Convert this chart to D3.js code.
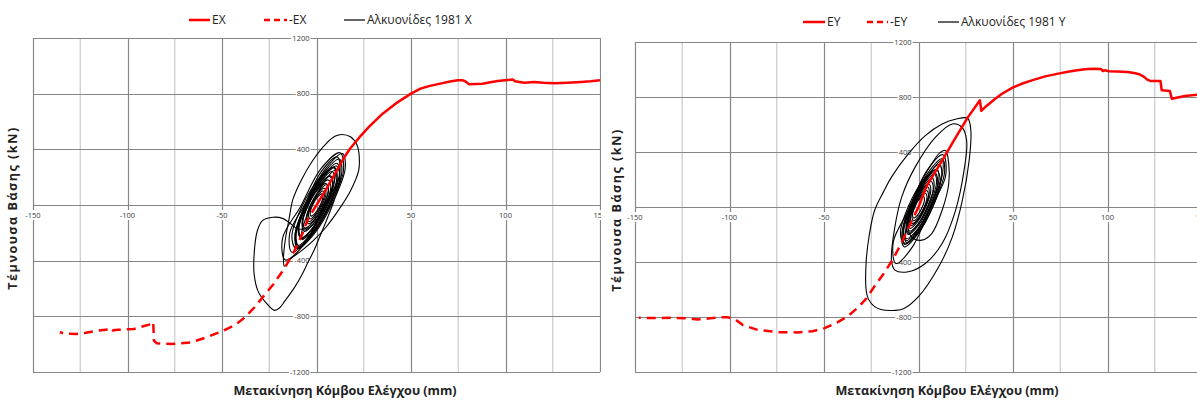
<!DOCTYPE html>
<html>
<head>
<meta charset="utf-8">
<script src="https://cdn.jsdelivr.net/npm/d3@7"></script>
<style>
  html, body { margin: 0; padding: 0; background: #fff; }
  svg { display: block; }
</style>
</head>
<body>
<svg id="chart" width="1197" height="401"></svg>
<script>
// ---- tick values ----
const xTicks = [-150, -100, -50, 0, 50, 100, 150];
const xMinorTicks = [-125, -75, -25, 25, 75, 125];
const yTicks = [-1200, -800, -400, 0, 400, 800, 1200];

// ---- X direction: pushover curves (mm, kN) ----
const pushEX = [[0,0],[5,110],[10,230],[14.8,345],[18,410],[22.9,489],[28,565],[35,656],[42,730],
  [50,800],[55,836],[60,856],[65.5,872],[70,885],[74.6,896],[77,897],[78.7,889],[80.7,867],[84,870],
  [87.8,872],[92,882],[95.9,891],[100,897],[104,901],[105,889],[110,879],[115,884],[120,878],
  [126,874],[133,878],[140,884],[145,889],[150,896]];
const pushEXneg = [[0,0],[-4.5,-100],[-7.5,-208],[-11.6,-328],[-16.6,-448],[-22.7,-568],[-27.8,-651],
  [-32.8,-735],[-37.9,-807],[-43,-862],[-50.1,-908],[-58.2,-951],[-66.3,-987],[-76.4,-999],
  [-84.5,-994],[-86,-975],[-86.4,-840],[-88.6,-860],[-96.7,-891],[-105,-897],[-107.5,-900],
  [-108.5,-913],[-110,-893],[-117,-905],[-122,-918],[-127.1,-927],[-132,-925],[-135.8,-915]];

// ---- X direction: time-history hysteresis loops (Αλκυονίδες 1981) ----
const hystX = [
  [[13.4,507],[18,490],[21.5,430],[22.5,367],[22.3,247],[18,103],[12,-30],[5,-160],[-2,-260],[-8,-330],
   [-14,-390],[-17,-440],[-17.5,-390],[-16.5,-250],[-14.5,-100],[-12.5,40],[-8,180],[-2,320],[5,440],[10,495]],
  [[12.5,375],[14,221],[4.4,-10],[-6.3,-280],[-16.5,-395],[-18,-241],[-8.4,-10],[2.3,260]],
  [[11,345],[12.2,208],[4.3,2],[-4.6,-237],[-13,-340],[-14.2,-203],[-6.3,2],[2.6,242]],
  [[12.03,330],[13.4,236],[7.5,10],[-2.2,-216],[-10.03,-310],[-11.4,-216],[-5.5,10],[4.2,236]],
  [[10.84,300],[12.05,212],[6.5,0],[-2.57,-212],[-9.84,-300],[-11.05,-212],[-5.5,0],[3.57,212]],
  [[9.66,270],[10.72,188],[5.5,-10],[-2.94,-208],[-9.66,-290],[-10.72,-208],[-5.5,-10],[2.94,188]],
  [[10.47,280],[12.44,204],[8,20],[-0.24,-164],[-7.47,-240],[-9.44,-164],[-5,20],[3.24,204]],
  [[8.28,240],[9.39,170],[5,0],[-2.31,-170],[-8.28,-240],[-9.39,-170],[-5,0],[2.31,170]],
  [[7.09,205],[8.75,140],[5,-15],[-1.97,-170],[-8.09,-235],[-9.75,-170],[-6,-15],[0.97,140]],
  [[7.4,210],[8.56,151],[5,10],[-1.2,-131],[-6.4,-190],[-7.56,-131],[-4,10],[2.2,151]],
  [[6.21,180],[7.57,127],[4.5,0],[-1.21,-127],[-6.21,-180],[-7.57,-127],[-4.5,0],[1.21,127]],
  [[5.02,155],[6.23,108],[3.5,-5],[-1.57,-118],[-6.02,-165],[-7.23,-118],[-4.5,-5],[0.57,108]],
  [[5.33,145],[6.38,104],[4,5],[-0.44,-94],[-4.33,-135],[-5.38,-94],[-3,5],[1.44,104]],
  [[4.14,120],[5.04,85],[3,0],[-0.8,-85],[-4.14,-120],[-5.04,-85],[-3,0],[0.8,85]],
  [[3.45,100],[4.21,71],[2.5,0],[-0.67,-71],[-3.45,-100],[-4.21,-71],[-2.5,0],[0.67,71]],
  [[2.76,80],[3.36,57],[2,0],[-0.54,-57],[-2.76,-80],[-3.36,-57],[-2,0],[0.54,57]],
  [[13.72,370],[15.24,270],[9,30],[-1.34,-210],[-9.72,-310],[-11.24,-210],[-5,30],[5.34,270]],
  [[9,270],[11.02,185],[6,-20],[-3.12,-225],[-11,-310],[-13.02,-225],[-8,-20],[1.12,185]],
  [[9.62,250],[9.57,177],[4.5,0],[-2.63,-177],[-7.62,-250],[-7.57,-177],[-2.5,0],[4.63,177]]
];
const flapX = [[-3,-160],[-10,-172],[-14,-130],[-18,-96],[-23,-88],[-28.6,-112],[-31.3,-185],[-33,-353],
  [-33,-497],[-31,-617],[-26.8,-701],[-22.3,-757],[-19.6,-740],[-16.6,-687],[-11.6,-592],[-7.5,-496],
  [-4.5,-412],[-1.4,-328],[1.6,-232],[5,-120],[9,20],[13,180]];

// ---- Y direction: pushover curves ----
const pushEY = [[0,0],[4.5,157],[12.5,338],[19,490],[26,650],[32.5,776],[33.2,700],[36,735],[39.6,776],
  [44,822],[49.8,868],[55,898],[60,921],[67,950],[74,970],[79,983],[84,994],[88,1001],[92.5,1006],
  [96.5,1004],[97.6,989],[98.6,994],[100.6,987],[105,985],[110.8,982],[114,975],[116.9,965],[119,950],
  [121,926],[123,916],[128,916],[128.7,849],[133,844],[134,788],[141,807],[149,819],[153,822]];
const pushEYneg = [[0,0],[-5.1,-145],[-9.2,-266],[-13.3,-375],[-18.4,-484],[-23.5,-581],[-27.6,-666],
  [-31.6,-726],[-37.8,-799],[-43.9,-847],[-50,-883],[-56,-903],[-64.3,-912],[-74.5,-910],[-84.7,-895],
  [-92.9,-859],[-97,-818],[-101,-801],[-105,-803],[-111.2,-811],[-117.3,-818],[-121,-811],
  [-129.6,-806],[-139.8,-808],[-148,-806]];

// ---- Y direction: time-history hysteresis loops ----
const hystY = [
  [[26,645],[27.7,555],[26.8,338],[23.2,48],[17.9,-217],[10.7,-435],[0,-652],[-8,-740],[-14.3,-753],
   [-20,-745],[-23.2,-725],[-26.5,-670],[-27.7,-604],[-27.7,-400],[-26,-200],[-23.2,-24],[-18.5,110],
   [-14.3,217],[-5.4,386],[3.6,519],[12.5,604],[20,640]],
  [[17.9,604],[8.9,507],[-1.8,290],[-8.9,72],[-12.5,-145],[-14.3,-386],[-12.5,-459],[-5.4,-471],
   [3.6,-411],[12.5,-266],[19.6,-24],[24.1,266],[25.5,480],[23,580]],
  [[14.3,411],[16,314],[16,169],[12.5,-24],[7,-193],[1.8,-241],[-2.7,-229],[-5.4,-169],[-4.5,-24],
   [0,145],[7,314],[11,390]],
  [[13,380],[14.3,222],[6,-15],[-3.3,-292],[-12,-410],[-13.3,-252],[-5,-15],[4.3,262]],
  [[12.5,350],[13.81,256],[8.5,30],[-0.33,-196],[-7.5,-290],[-8.81,-196],[-3.5,30],[5.33,256]],
  [[11.06,310],[12.3,225],[7.5,20],[-0.52,-185],[-7.06,-270],[-8.3,-185],[-3.5,20],[4.52,225]],
  [[9.63,275],[10.79,199],[6.5,15],[-0.71,-169],[-6.63,-245],[-7.79,-169],[-3.5,15],[3.71,199]],
  [[8.5,250],[10.19,180],[6.5,10],[-0.41,-160],[-6.5,-230],[-8.19,-160],[-4.5,10],[2.41,180]],
  [[8.38,240],[9.54,176],[6,20],[-0.18,-136],[-5.38,-200],[-6.54,-136],[-3,20],[3.18,176]],
  [[7.25,210],[8.25,151],[5,10],[-0.59,-131],[-5.25,-190],[-6.25,-131],[-3,10],[2.59,151]],
  [[6.63,185],[7.81,132],[5,5],[-0.15,-122],[-4.63,-175],[-5.81,-122],[-3,5],[2.15,132]],
  [[5.5,165],[6.51,118],[4,5],[-0.57,-108],[-4.5,-155],[-5.51,-108],[-3,5],[1.57,118]],
  [[4.88,145],[5.71,104],[3.5,5],[-0.47,-94],[-3.88,-135],[-4.71,-94],[-2.5,5],[1.47,104]],
  [[4.25,120],[5.27,85],[3.5,0],[-0.03,-85],[-3.25,-120],[-4.27,-85],[-2.5,0],[1.03,85]],
  [[3.63,100],[4.48,71],[3,0],[0.06,-71],[-2.63,-100],[-3.48,-71],[-2,0],[0.94,71]],
  [[2.5,80],[3.18,57],[2,0],[-0.36,-57],[-2.5,-80],[-3.18,-57],[-2,0],[0.36,57]],
  [[9.44,270],[11.57,191],[7.5,0],[-0.37,-191],[-7.44,-270],[-9.57,-191],[-5.5,0],[2.37,191]],
  [[12.38,340],[12.81,252],[7.5,40],[-0.45,-172],[-6.38,-260],[-6.81,-172],[-1.5,40],[6.45,252]]
];
const flapY = [];

// ---- legend labels ----
const legendX = ['EX', '-EX', 'Αλκυονίδες 1981 X'];
const legendY = ['EY', '-EY', 'Αλκυονίδες 1981 Y'];

const xTitle = 'Μετακίνηση Κόμβου Ελέγχου (mm)';
const yTitle = 'Τέμνουσα Βάσης (kN)';

// ---- panel layout ----
const panels = [
  { key: 'x', clip: [0, 0, 606, 401], plot: { l: 33, t: 38, r: 600, b: 372 },
    legendY: 20, legendSamples: [[189, 210], [264, 287], [344, 365]], labels: legendX,
    pos: pushEX, neg: pushEXneg, loops: hystX, flap: flapX, yTitleX: 13, yTitleY: 208, xTitleX: 345 },
  { key: 'y', clip: [601, 0, 596, 401], plot: { l: 635, t: 42, r: 1202, b: 372 },
    legendY: 22, legendSamples: [[803, 825], [867, 888], [938, 959]], labels: legendY,
    pos: pushEY, neg: pushEYneg, loops: hystY, flap: flapY, yTitleX: 617, yTitleY: 210, xTitleX: 947 }
];

const FONT = "'Open Sans', 'Noto Sans', sans-serif";
const svg = d3.select('#chart');
svg.append('rect').attr('width', 1197).attr('height', 401).attr('fill', '#fff');
const defs = svg.append('defs');

panels.forEach(p => {
  const chartClip = 'chart-' + p.key, plotClip = 'plot-' + p.key;
  defs.append('clipPath').attr('id', chartClip).append('rect')
    .attr('x', p.clip[0]).attr('y', p.clip[1]).attr('width', p.clip[2]).attr('height', p.clip[3]);
  defs.append('clipPath').attr('id', plotClip).append('rect')
    .attr('x', p.plot.l).attr('y', p.plot.t).attr('width', p.plot.r - p.plot.l).attr('height', p.plot.b - p.plot.t);

  const g = svg.append('g').attr('clip-path', `url(#${chartClip})`);
  g.append('rect').attr('x', p.clip[0]).attr('y', 0).attr('width', p.clip[2]).attr('height', 401).attr('fill', '#fff');

  const x = d3.scaleLinear().domain([-150, 150]).range([p.plot.l, p.plot.r]);
  const y = d3.scaleLinear().domain([-1200, 1200]).range([p.plot.b, p.plot.t]);

  // gridlines
  const grid = g.append('g');
  grid.selectAll('.minor').data(xMinorTicks).join('line')
    .attr('x1', d => x(d)).attr('x2', d => x(d)).attr('y1', p.plot.t).attr('y2', p.plot.b)
    .attr('stroke', '#cfcfcf').attr('stroke-width', 1.3);
  grid.selectAll('.vmaj').data(xTicks).join('line')
    .attr('x1', d => Math.round(x(d)) + 0.5).attr('x2', d => Math.round(x(d)) + 0.5)
    .attr('y1', p.plot.t).attr('y2', p.plot.b)
    .attr('stroke', '#878787').attr('stroke-width', 1.2);
  grid.selectAll('.hmaj').data(yTicks).join('line')
    .attr('x1', p.plot.l).attr('x2', p.plot.r)
    .attr('y1', d => Math.round(y(d)) + 0.5).attr('y2', d => Math.round(y(d)) + 0.5)
    .attr('stroke', '#878787').attr('stroke-width', 1.2);

  // tick labels sitting on the zero axes (white backing)
  const tickG = g.append('g').attr('font-family', FONT).attr('font-size', 7.5).attr('fill', '#3a3a3a');
  const x0 = x(0), y0 = y(0);
  xTicks.forEach(v => {
    const t = tickG.append('text').attr('x', x(v)).attr('y', y0 + 13).attr('text-anchor', 'middle').text(v);
    const bb = t.node().getBBox();
    tickG.insert('rect', 'text').attr('x', bb.x - 1).attr('y', bb.y).attr('width', bb.width + 2)
      .attr('height', bb.height).attr('fill', '#fff');
  });
  yTicks.forEach(v => {
    const t = tickG.append('text').attr('x', x0 - 7).attr('y', y(v)).attr('dy', '0.35em')
      .attr('text-anchor', 'end').text(v);
    const bb = t.node().getBBox();
    tickG.insert('rect', 'text').attr('x', bb.x - 1).attr('y', bb.y).attr('width', bb.width + 2)
      .attr('height', bb.height).attr('fill', '#fff');
  });

  // series
  const plotG = g.append('g').attr('clip-path', `url(#${plotClip})`);
  const loopLine = d3.line().x(d => x(d[0])).y(d => y(d[1])).curve(d3.curveCatmullRomClosed.alpha(0.5));
  const openLine = d3.line().x(d => x(d[0])).y(d => y(d[1])).curve(d3.curveCatmullRom.alpha(0.5));
  const straight = d3.line().x(d => x(d[0])).y(d => y(d[1]));

  plotG.selectAll('.loop').data(p.loops).join('path')
    .attr('d', loopLine).attr('fill', 'none').attr('stroke', '#000').attr('stroke-width', 1.1);
  if (p.flap.length) {
    plotG.append('path').datum(p.flap).attr('d', openLine)
      .attr('fill', 'none').attr('stroke', '#000').attr('stroke-width', 1.1);
  }
  plotG.append('path').datum(p.neg).attr('d', straight).attr('fill', 'none')
    .attr('stroke', '#ff0000').attr('stroke-width', 2.5).attr('stroke-dasharray', '9,6');
  plotG.append('path').datum(p.pos).attr('d', straight).attr('fill', 'none')
    .attr('stroke', '#ff0000').attr('stroke-width', 2.5).attr('stroke-linejoin', 'round');

  // legend
  const lg = g.append('g').attr('font-family', FONT).attr('font-size', 12).attr('fill', '#222');
  const styles = [
    { stroke: '#ff0000', w: 2.5, dash: null },
    { stroke: '#ff0000', w: 2.5, dash: '6,4' },
    { stroke: '#000', w: 1.2, dash: null }
  ];
  p.legendSamples.forEach((s, i) => {
    lg.append('line').attr('x1', s[0]).attr('x2', s[1]).attr('y1', p.legendY).attr('y2', p.legendY)
      .attr('stroke', styles[i].stroke).attr('stroke-width', styles[i].w)
      .attr('stroke-dasharray', styles[i].dash);
    lg.append('text').attr('x', s[1] + 2).attr('y', p.legendY).attr('dy', '0.35em').text(p.labels[i]);
  });

  // axis titles
  g.append('text').attr('x', p.xTitleX).attr('y', 391).attr('dy', '0.35em')
    .attr('text-anchor', 'middle').attr('font-family', FONT).attr('font-weight', 'bold')
    .attr('font-size', 12.6).attr('fill', '#222').text(xTitle);
  g.append('text').attr('transform', `translate(${p.yTitleX},${p.yTitleY}) rotate(-90)`)
    .attr('dy', '0.35em').attr('text-anchor', 'middle').attr('font-family', FONT)
    .attr('font-weight', 'bold').attr('font-size', 12.6).attr('letter-spacing', 1.5)
    .attr('fill', '#222').text(yTitle);
});
</script>
</body>
</html>
